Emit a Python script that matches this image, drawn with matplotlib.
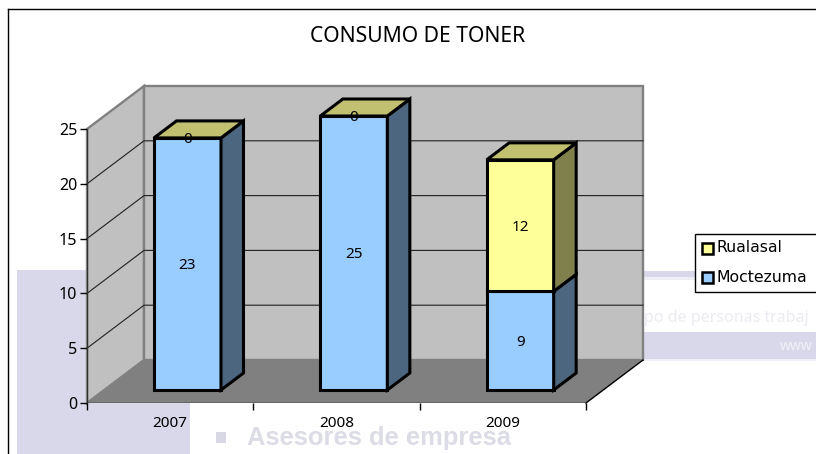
import matplotlib
matplotlib.use('Agg')
import matplotlib.pyplot as plt
from matplotlib.patches import Polygon, Rectangle

years = ['2007', '2008', '2009']
moctezuma = [23, 25, 9]
rualasal = [0, 0, 12]
y_ticks = [0, 5, 10, 15, 20, 25]

W, H = 816, 454
plt.rcParams['font.family'] = ['Noto Sans', 'DejaVu Sans']

fig = plt.figure(figsize=(W / 100, H / 100), dpi=100)

# capa de fondo en pixeles (imagen que se ve detras del grafico)
bg = fig.add_axes([0, 0, 1, 1], zorder=0)
bg.set_xlim(0, W)
bg.set_ylim(H, 0)
bg.axis('off')
lav = '#d8d8ea'
bg.add_patch(Rectangle((17, 270), 173, 184, color=lav, lw=0))
bg.add_patch(Rectangle((642, 271), 174, 6, color=lav, lw=0))
bg.add_patch(Rectangle((642, 277), 174, 3, color='#eeeef6', lw=0))
bg.add_patch(Rectangle((642, 332), 174, 27, color=lav, lw=0))
bg.add_patch(Rectangle((642, 359), 174, 2, color='#eeeef6', lw=0))
bg.add_patch(Rectangle((216, 432), 10, 11, color='#d8d8e4', lw=0))
bg.text(247, 438, 'Asesores de empresa', fontsize=18.4, color='#dcdce6', va='center',
        fontweight='bold', family='Liberation Sans')
bg.text(644, 318, 'po de personas trabaj', fontsize=11.5, color='#ebebf2', va='center')
bg.text(780, 346, 'www', fontsize=10, color='#f1f1f8', va='center')
bg.plot([8, 8], [9, H], color='black', lw=1)
bg.plot([8, W], [9, 9], color='black', lw=1)
bg.text(418, 36, 'CONSUMO DE TONER', fontsize=15.2, ha='center', va='center', color='black')

# ejes principales: categoria en x, valor en y
ax = fig.add_axes([87 / W, 1 - 403 / H, (586 - 87) / W, (403 - 129) / H], zorder=1)
ax.patch.set_alpha(0)
ax.set_xlim(0, 3)
ax.set_ylim(0, 25)

ux = (586 - 87) / 3
uy = (403 - 129) / 25
ddx, ddy = 57 / ux, 43 / uy       # profundidad de la pared
bar_l = 67 / ux                   # margen izquierdo de barra
bar_w = 67 / ux                   # ancho de barra
base = 13 / uy                    # la barra arranca hacia el fondo
tx, ty = 22.5 / ux, 17 / uy       # profundidad de barra
lift = 1.5 / uy                   # ajuste vertical de las etiquetas


def poly(pts, fc, ec='none', lw=0, z=1):
    ax.add_patch(Polygon(pts, closed=True, facecolor=fc, edgecolor=ec, lw=lw,
                         zorder=z, clip_on=False, joinstyle='miter'))


# paredes y piso
poly([(0, 0), (ddx, ddy), (ddx, 25 + ddy), (0, 25)], '#c0c0c0', '#808080', 1.7)
poly([(ddx, ddy), (3 + ddx, ddy), (3 + ddx, 25 + ddy), (ddx, 25 + ddy)], '#c0c0c0', '#808080', 1.7)
poly([(0, 0), (3, 0), (3 + ddx, ddy), (ddx, ddy)], '#808080')

# lineas de rejilla
for v in y_ticks[1:-1]:
    ax.plot([0, ddx, 3 + ddx], [v, v + ddy, v + ddy], color='#202020', lw=0.8, zorder=2, clip_on=False)
ax.plot([0, 0], [0, 25], color='#303030', lw=1, zorder=2)
ax.plot([0, 3], [0, 0], color='black', lw=1, zorder=2)
ax.plot([3, 3 + ddx], [0, ddy], color='black', lw=1, zorder=2, clip_on=False)

# barras
for i in range(len(years)):
    l = i + bar_l
    r = l + bar_w
    m = moctezuma[i]
    s = m + rualasal[i]
    kw = dict(ec='black', lw=2.2, z=3)
    poly([(l, base), (r, base), (r, base + m), (l, base + m)], '#99ccff', **kw)
    poly([(r, base), (r + tx, base + ty), (r + tx, base + m + ty), (r, base + m)], '#4d6680', **kw)
    if rualasal[i] > 0:
        poly([(l, base + m), (r, base + m), (r, base + s), (l, base + s)], '#ffff99', **kw)
        poly([(r, base + m), (r + tx, base + m + ty), (r + tx, base + s + ty), (r, base + s)], '#80804d', **kw)
    poly([(l, base + s), (r, base + s), (r + tx, base + s + ty), (l + tx, base + s + ty)], '#c0c070', **kw)
    mid = (l + r) / 2
    ax.text(mid, base + m / 2 - lift, str(m), ha='center', va='center', fontsize=11, zorder=5)
    ax.text(mid, base + m + rualasal[i] / 2 - lift, str(rualasal[i]), ha='center', va='center', fontsize=11, zorder=5)

for s in ax.spines.values():
    s.set_visible(False)
ax.set_xticks(range(4))
ax.set_xticklabels([])
for i, y in enumerate(years):
    ax.text(i + 0.5, -1.9, y, ha='center', va='center', fontsize=11)
ax.set_yticks(y_ticks)
ax.tick_params(axis='y', length=5, width=1, labelsize=11.5, pad=2)
ax.tick_params(axis='x', length=5, width=1)

# leyenda
top = fig.add_axes([0, 0, 1, 1], zorder=2)
top.set_xlim(0, W)
top.set_ylim(H, 0)
top.axis('off')
top.add_patch(Rectangle((694.5, 233.5), 125, 58, fc='white', ec='black', lw=1))
for name, col, yy in [('Rualasal', '#ffff99', 248), ('Moctezuma', '#99ccff', 277)]:
    top.add_patch(Rectangle((701.5, yy - 5.5), 11, 11, fc=col, ec='black', lw=1.8))
    top.text(717, yy, name, fontsize=11.3, va='center', family='DejaVu Sans')

fig.savefig('out.png', dpi=100)
